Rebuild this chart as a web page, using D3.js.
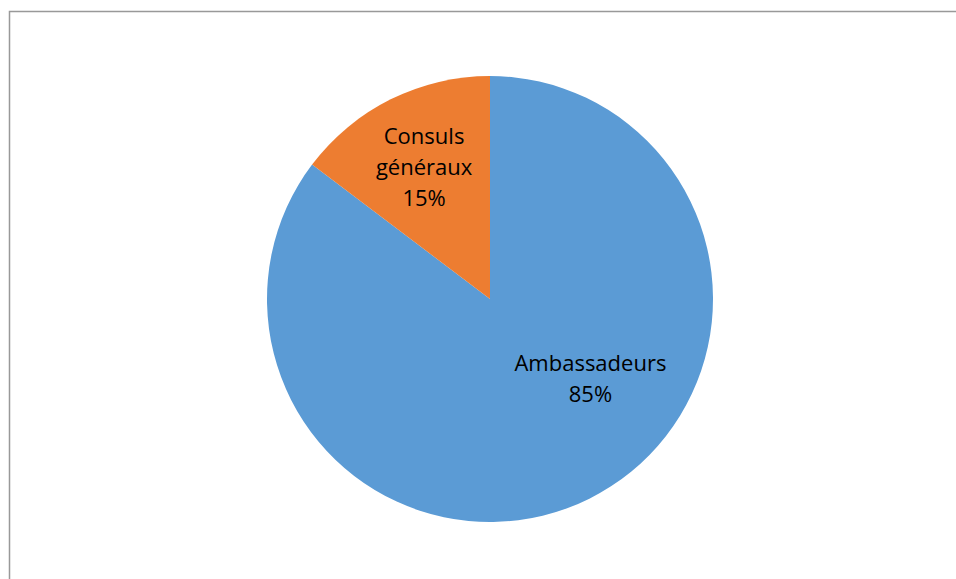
<!DOCTYPE html>
<head>
<meta charset="utf-8">
<script src="https://d3js.org/d3.v7.min.js"></script>
<style>
body { margin: 0; background: #fff; }
svg text { font-family: "Open Sans", "Noto Sans", sans-serif; fill: #000; }
</style>
</head>
<body>
<div id="chart"></div>
<script>
// data
var categories = ["Ambassadeurs", "Consuls généraux"];
var values = [85.3, 14.7];
var colors = ["#5B9BD5", "#ED7D31"];

var width = 956, height = 579;
var cx = 490, cy = 299, radius = 223;

var svg = d3.select("#chart").append("svg")
  .attr("width", width).attr("height", height);

// chart frame (runs off the right and bottom edge)
svg.append("path")
  .attr("d", "M9.5," + (height + 5) + "V11.5H" + (width + 5))
  .attr("fill", "none")
  .attr("stroke", "#999")
  .attr("stroke-width", 1.5);

var data = categories.map(function(c, i) { return {name: c, value: values[i], color: colors[i]}; });

// first slice starts at 12 o'clock and goes clockwise
var pie = d3.pie().sort(null).value(function(d) { return d.value; });
var arcs = pie(data);
var arc = d3.arc().innerRadius(0).outerRadius(radius);

var g = svg.append("g").attr("transform", "translate(" + cx + "," + cy + ")");

g.selectAll("path.slice")
  .data(arcs)
  .enter().append("path")
  .attr("class", "slice")
  .attr("d", arc)
  .attr("fill", function(d) { return d.data.color; });

// label placement (Excel best fit): radius and angle shift per slice
var labelPlace = [{r: 128, da: -0.44}, {r: 148, da: 0}];
var total = d3.sum(values);

arcs.forEach(function(d, i) {
  var a = (d.startAngle + d.endAngle) / 2 + labelPlace[i].da;
  var x = Math.sin(a) * labelPlace[i].r;
  var y = -Math.cos(a) * labelPlace[i].r;
  var pct = Math.round(d.data.value / total * 100) + "%";
  var lines = i === 1 ? ["Consuls", "généraux", pct] : [d.data.name, pct];
  var lh = 31;
  var t = g.append("text")
    .attr("text-anchor", "middle")
    .style("font-size", "22px");
  lines.forEach(function(l, k) {
    t.append("tspan")
      .attr("x", x)
      .attr("y", y + (k - (lines.length - 1) / 2) * lh + 8)
      .text(l);
  });
});
</script>
</body>
